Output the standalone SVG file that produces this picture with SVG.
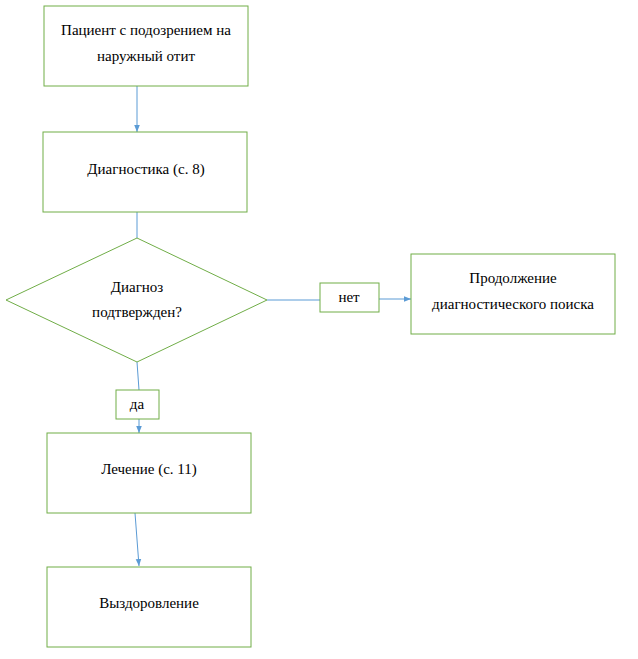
<svg xmlns="http://www.w3.org/2000/svg" width="638" height="659" viewBox="0 0 638 659">
<style>
.n{fill:#fff;stroke:#70AD47;stroke-width:1}
.c{fill:none;stroke:#5B9BD5;stroke-width:1}
text{font-family:'Liberation Serif','Times New Roman','DejaVu Serif',serif;font-size:15px;fill:#000;text-anchor:middle}
</style>
<defs><marker id="a" viewBox="0 0 10 10" refX="10" refY="5" markerWidth="7" markerHeight="7" orient="auto"><path d="M0,1 L10,5 L0,9 z" fill="#5B9BD5"/></marker></defs>
<rect width="638" height="659" fill="#fff"/>
<g id="connectors">
<path class="c" d="M137,86 L137,132" marker-end="url(#a)"/>
<path class="c" d="M137,212 L137,238"/>
<path class="c" d="M267,300 L320,300"/>
<path class="c" d="M379,299 L411,299" marker-end="url(#a)"/>
<path class="c" d="M137,362 L139,390"/>
<path class="c" d="M139,419 L139,433" marker-end="url(#a)"/>
<path class="c" d="M135,513 L139,566" marker-end="url(#a)"/>
</g>
<g id="n1"><rect class="n" x="44" y="6" width="204" height="80"/><text x="146" y="35">Пациент с подозрением на</text><text x="146" y="61">наружный отит</text></g>
<g id="n2"><rect class="n" x="43" y="132" width="204" height="80"/><text x="146" y="174">Диагностика (с. 8)</text></g>
<g id="n3"><polygon class="n" points="137,238 267,300 137,362 6,300"/><text x="137" y="292">Диагноз</text><text x="137" y="317">подтвержден?</text></g>
<g id="n4"><rect class="n" x="320" y="283" width="59" height="29"/><text x="349" y="302">нет</text></g>
<g id="n5"><rect class="n" x="411" y="254" width="204" height="80"/><text x="513" y="283">Продолжение</text><text x="513" y="309">диагностического поиска</text></g>
<g id="n6"><rect class="n" x="116" y="390" width="43" height="29"/><text x="137" y="409">да</text></g>
<g id="n7"><rect class="n" x="47" y="433" width="204" height="80"/><text x="149" y="474">Лечение (с. 11)</text></g>
<g id="n8"><rect class="n" x="47" y="567" width="204" height="80"/><text x="149" y="608">Выздоровление</text></g>
</svg>
